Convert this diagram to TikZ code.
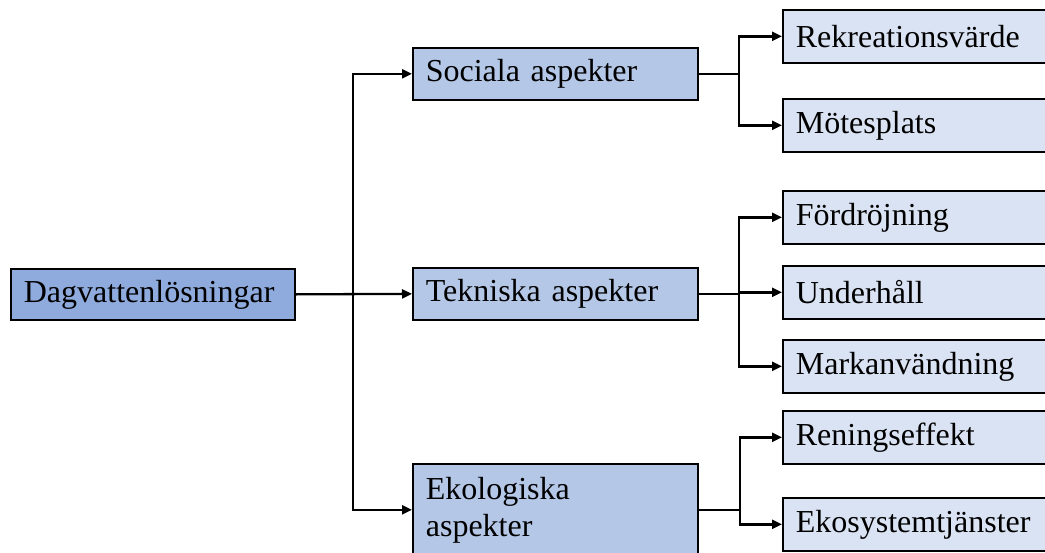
\documentclass[tikz,border=0pt]{standalone}
\usepackage{fontspec}
\setmainfont{Liberation Serif}
\usetikzlibrary{arrows.meta}
\definecolor{rootblue}{HTML}{8FAADC}
\definecolor{midblue}{HTML}{B4C7E7}
\definecolor{leafblue}{HTML}{DAE3F3}
\tikzset{
  box/.style={draw=black, line width=1.7pt, rectangle, anchor=north west,
    inner xsep=13pt, inner ysep=0pt, align=left,
    font=\fontsize{32}{37}\selectfont},
  rootbox/.style={box, fill=rootblue, text width=258pt, minimum height=51pt},
  midbox/.style={box, fill=midblue, text width=259pt, minimum height=52pt},
  leafbox/.style={box, fill=leafblue, text width=264pt, minimum height=53pt},
  link/.style={line width=2.3pt, draw=black},
  arr/.style={link, -{Triangle[length=10pt,width=9pt]}}
}
\begin{document}
\begin{tikzpicture}[x=1pt,y=-1pt]
\useasboundingbox (0,0) rectangle (1045,552);
\clip (0,0) rectangle (1045,552);
\fill[white] (0,0) rectangle (1045,552);
% nodes
\node[rootbox] (root) at (10,268) {Dagvattenlösningar};
\node[midbox] (soc) at (412,47) {Sociala aspekter};
\node[midbox] (tek) at (412,267) {Tekniska aspekter};
\node[midbox, minimum height=92pt] (eko) at (412,463) {Ekologiska\\aspekter};
\node[leafbox] (rek) at (782,9) {Rekreationsvärde};
\node[leafbox] (mot) at (782,98) {Mötesplats};
\node[leafbox] (for) at (782,190) {Fördröjning};
\node[leafbox] (und) at (782,265) {Underhåll};
\node[leafbox] (mar) at (782,339) {Markanvändning};
\node[leafbox] (ren) at (782,410) {Reningseffekt};
\node[leafbox] (eks) at (782,497) {Ekosystemtjänster};
% junction columns
\coordinate (bj) at (353,0);
\coordinate (sj) at (739,0);
\coordinate (ej) at (740,0);
% root links
\draw[arr] (root.east) -- (tek.west);
\draw[arr] (bj |- root.east) |- (soc.west);
\draw[arr] (bj |- root.east) |- (eko.west);
% sociala
\draw[link] (soc.east) -- (sj |- soc.east);
\draw[arr] (sj |- soc.east) |- (rek.west);
\draw[arr] (sj |- soc.east) |- (mot.west);
% tekniska
\draw[link] (tek.east) -- (sj |- tek.east);
\draw[arr] (sj |- tek.east) |- (for.west);
\draw[arr] (sj |- tek.east) |- (und.west);
\draw[arr] (sj |- tek.east) |- (mar.west);
% ekologiska
\draw[link] (eko.east) -- (ej |- eko.east);
\draw[arr] (ej |- eko.east) |- (ren.west);
\draw[arr] (ej |- eko.east) |- (eks.west);
\end{tikzpicture}
\end{document}
